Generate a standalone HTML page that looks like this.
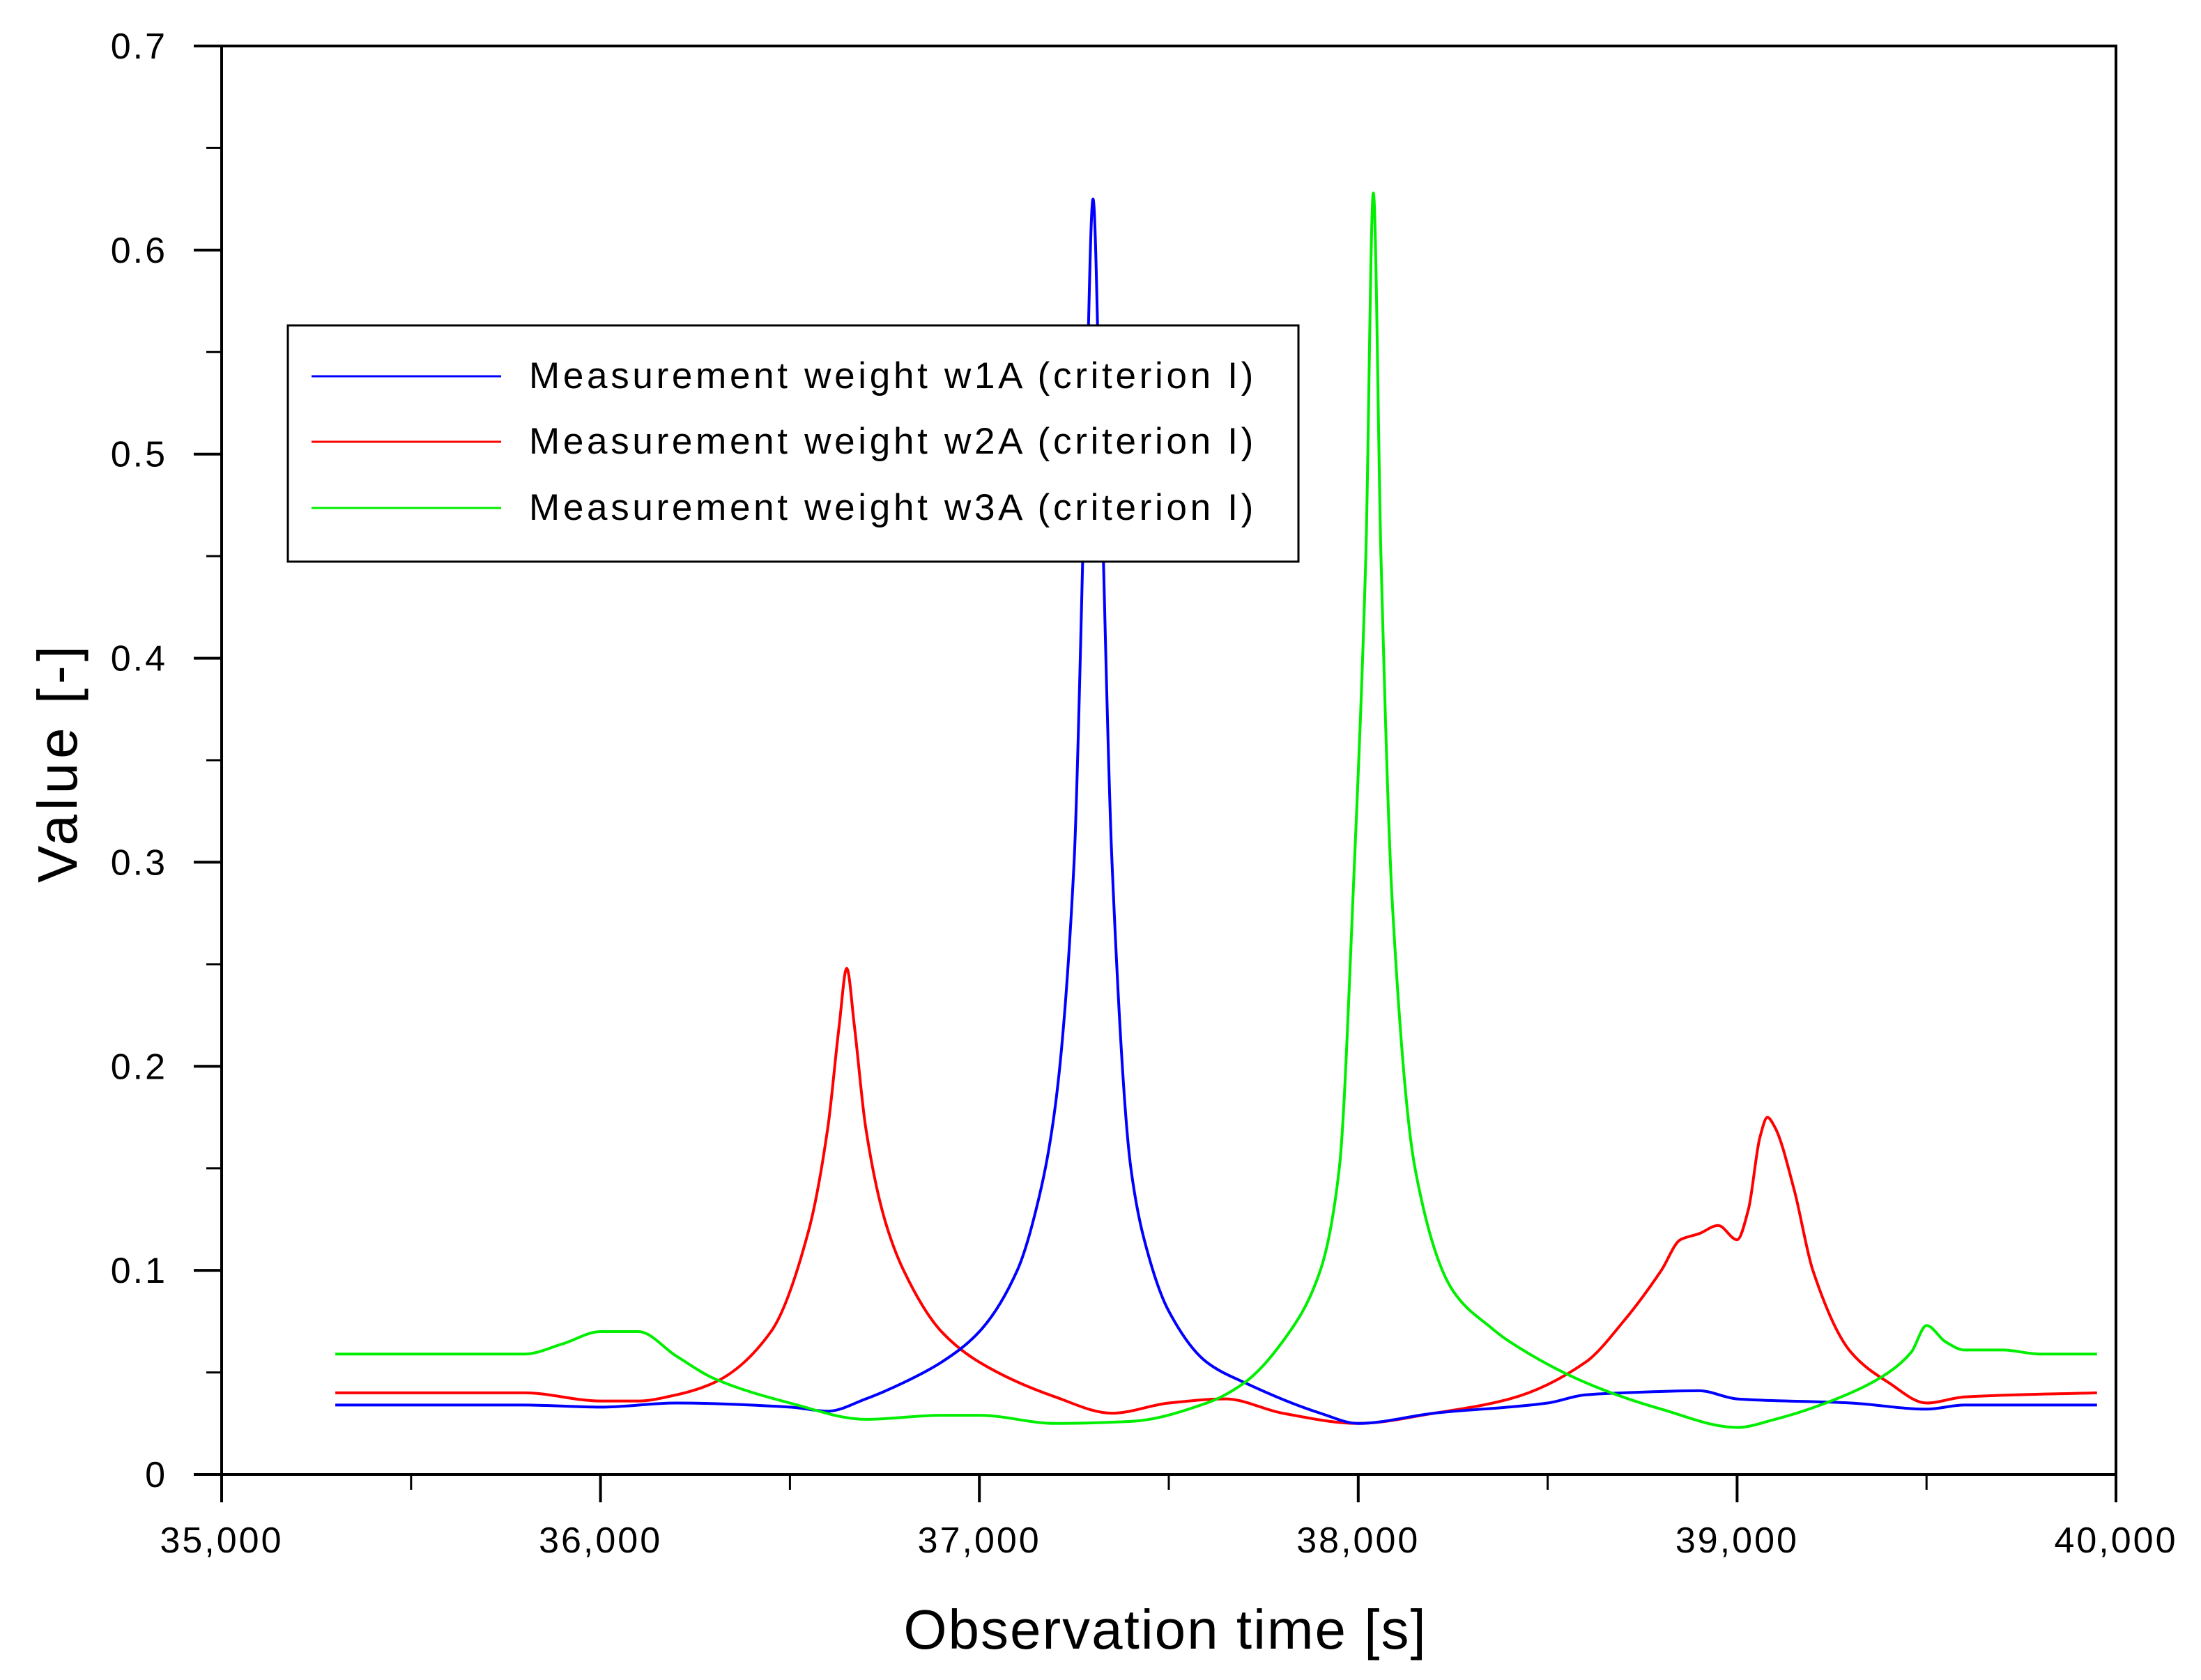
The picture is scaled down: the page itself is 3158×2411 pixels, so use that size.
<!DOCTYPE html>
<html><head><meta charset="utf-8"><style>
html,body{margin:0;padding:0;background:#fff;}
svg{display:block;font-family:"Liberation Sans",Arial,sans-serif;}
</style></head><body>
<svg id="chart" width="3158" height="2411" viewBox="0 0 3158 2411" xmlns="http://www.w3.org/2000/svg">
<g id="series"></g>
<rect x="318" y="66" width="2718" height="2050" fill="none" stroke="#000" stroke-width="4"/>
<g id="axes"></g>
<text x="1672" y="2366" font-size="80" letter-spacing="2" text-anchor="middle">Observation time [s]</text>
<text x="0" y="0" font-size="80" letter-spacing="6" text-anchor="middle" transform="translate(110,1094) rotate(-90)">Value [-]</text>
<g>
<rect x="413" y="467" width="1450" height="339" fill="#fff" stroke="#000" stroke-width="3"/>
<line x1="447" y1="540" x2="719" y2="540" stroke="#0000ff" stroke-width="3"/>
<text x="759" y="557" font-size="53" letter-spacing="4.7">Measurement weight w1A (criterion I)</text>
<line x1="447" y1="634" x2="719" y2="634" stroke="#ff0000" stroke-width="3"/>
<text x="759" y="651" font-size="53" letter-spacing="4.7">Measurement weight w2A (criterion I)</text>
<line x1="447" y1="729" x2="719" y2="729" stroke="#00ee00" stroke-width="3"/>
<text x="759" y="746" font-size="53" letter-spacing="4.7">Measurement weight w3A (criterion I)</text>
</g>
</svg>
<script>
const xTicks = [35000,36000,37000,38000,39000,40000];
const xTickLabels = ["35,000","36,000","37,000","38,000","39,000","40,000"];
const yTicks = [0,0.1,0.2,0.3,0.4,0.5,0.6,0.7];
const yTickLabels = ["0","0.1","0.2","0.3","0.4","0.5","0.6","0.7"];
const w1Time = [35300,35800,36000,36200,36500,36600,36700,36800,36900,37000,37100,37150,37200,37250,37280,37300,37320,37350,37400,37450,37500,37600,37700,37900,38000,38200,38500,38600,38700,38900,39000,39300,39500,39600,39950];
const w1Value = [0.034,0.034,0.033,0.035,0.033,0.031,0.037,0.045,0.055,0.07,0.1,0.13,0.18,0.3,0.5,0.625,0.5,0.3,0.15,0.105,0.08,0.055,0.045,0.03,0.025,0.03,0.035,0.039,0.04,0.041,0.037,0.035,0.032,0.034,0.034];
const w2Time = [35300,35800,36000,36100,36200,36300,36450,36550,36600,36630,36650,36670,36700,36750,36800,36900,37000,37200,37350,37500,37650,37800,38000,38200,38400,38600,38700,38800,38850,38900,38950,39000,39030,39060,39080,39100,39150,39200,39300,39400,39500,39600,39950];
const w2Value = [0.04,0.04,0.036,0.036,0.039,0.045,0.07,0.12,0.17,0.22,0.248,0.22,0.17,0.125,0.1,0.07,0.055,0.038,0.03,0.035,0.037,0.03,0.025,0.03,0.037,0.055,0.075,0.1,0.115,0.118,0.122,0.115,0.13,0.165,0.175,0.17,0.14,0.1,0.06,0.045,0.035,0.038,0.04];
const w3Time = [35300,35800,35900,36000,36100,36200,36300,36500,36700,36900,37000,37200,37400,37600,37700,37800,37900,37950,37990,38020,38040,38060,38090,38150,38250,38350,38400,38600,38800,39000,39100,39300,39400,39460,39500,39550,39600,39700,39800,39950];
const w3Value = [0.059,0.059,0.064,0.07,0.07,0.058,0.047,0.035,0.027,0.029,0.029,0.025,0.026,0.035,0.045,0.065,0.1,0.15,0.3,0.45,0.628,0.45,0.28,0.15,0.09,0.072,0.065,0.045,0.032,0.023,0.027,0.04,0.05,0.06,0.073,0.065,0.061,0.061,0.059,0.059];

const L=318,R=3036,T=66,B=2116;
const xs = v => L + (v-35000)/5000*(R-L);
const ys = v => B - v/0.7*(B-T);
const NS="http://www.w3.org/2000/svg";
const axes=document.getElementById('axes');
const series=document.getElementById('series');
function mk(tag, attrs, parent){const e=document.createElementNS(NS,tag);for(const k in attrs)e.setAttribute(k,attrs[k]);parent.appendChild(e);return e;}

xTicks.forEach((t,i)=>{
  const x=xs(t);
  const tk=mk('line',{x1:x,y1:B,x2:x,y2:B+40,stroke:'#000','stroke-width':4},axes);
  
  
  const lb=mk('text',{x:x,y:B+112,'font-size':52,'letter-spacing':3,'text-anchor':'middle'},axes);
  lb.textContent=xTickLabels[i];
  
  
  if(i<xTicks.length-1){
    const mx=xs(t+500);
    const m=mk('line',{x1:mx,y1:B,x2:mx,y2:B+22,stroke:'#000','stroke-width':3},axes);
    
    
  }
});
yTicks.forEach((t,i)=>{
  const y=ys(t);
  const tk=mk('line',{x1:L-40,y1:y,x2:L,y2:y,stroke:'#000','stroke-width':4},axes);
  
  
  const lb=mk('text',{x:L-78,y:y+18,'font-size':52,'letter-spacing':3,'text-anchor':'end'},axes);
  lb.textContent=yTickLabels[i];
  
  
  if(i<yTicks.length-1){
    const my=ys(t+0.05);
    const m=mk('line',{x1:L-22,y1:my,x2:L,y2:my,stroke:'#000','stroke-width':3},axes);
    
    
  }
});
function monoPath(tx,vy){
  const X=tx.map(xs), Y=vy.map(ys), n=X.length;
  const d=[],m=new Array(n);
  for(let i=0;i<n-1;i++) d.push((Y[i+1]-Y[i])/(X[i+1]-X[i]));
  m[0]=d[0]; m[n-1]=d[n-2];
  for(let i=1;i<n-1;i++){
    if(d[i-1]*d[i]<=0) m[i]=0;
    else {const w1=2*(X[i+1]-X[i])+(X[i]-X[i-1]), w2=(X[i+1]-X[i])+2*(X[i]-X[i-1]);
      m[i]=(w1+w2)/(w1/d[i-1]+w2/d[i]);}
  }
  let p='M'+X[0].toFixed(1)+','+Y[0].toFixed(1);
  for(let i=0;i<n-1;i++){
    const h=(X[i+1]-X[i])/3;
    p+=' C'+(X[i]+h).toFixed(1)+','+(Y[i]+m[i]*h).toFixed(1)+' '+(X[i+1]-h).toFixed(1)+','+(Y[i+1]-m[i+1]*h).toFixed(1)+' '+X[i+1].toFixed(1)+','+Y[i+1].toFixed(1);
  }
  return p;
}
function draw(tx,vy,color,name){
  const p=mk('path',{d:monoPath(tx,vy),fill:'none',stroke:color,'stroke-width':4,'stroke-linejoin':'round'},series);
  
  
}
draw(w2Time,w2Value,'#ff0000','series-w2a-line');
draw(w1Time,w1Value,'#0000ff','series-w1a-line');
draw(w3Time,w3Value,'#00ee00','series-w3a-line');
</script>
</body></html>
